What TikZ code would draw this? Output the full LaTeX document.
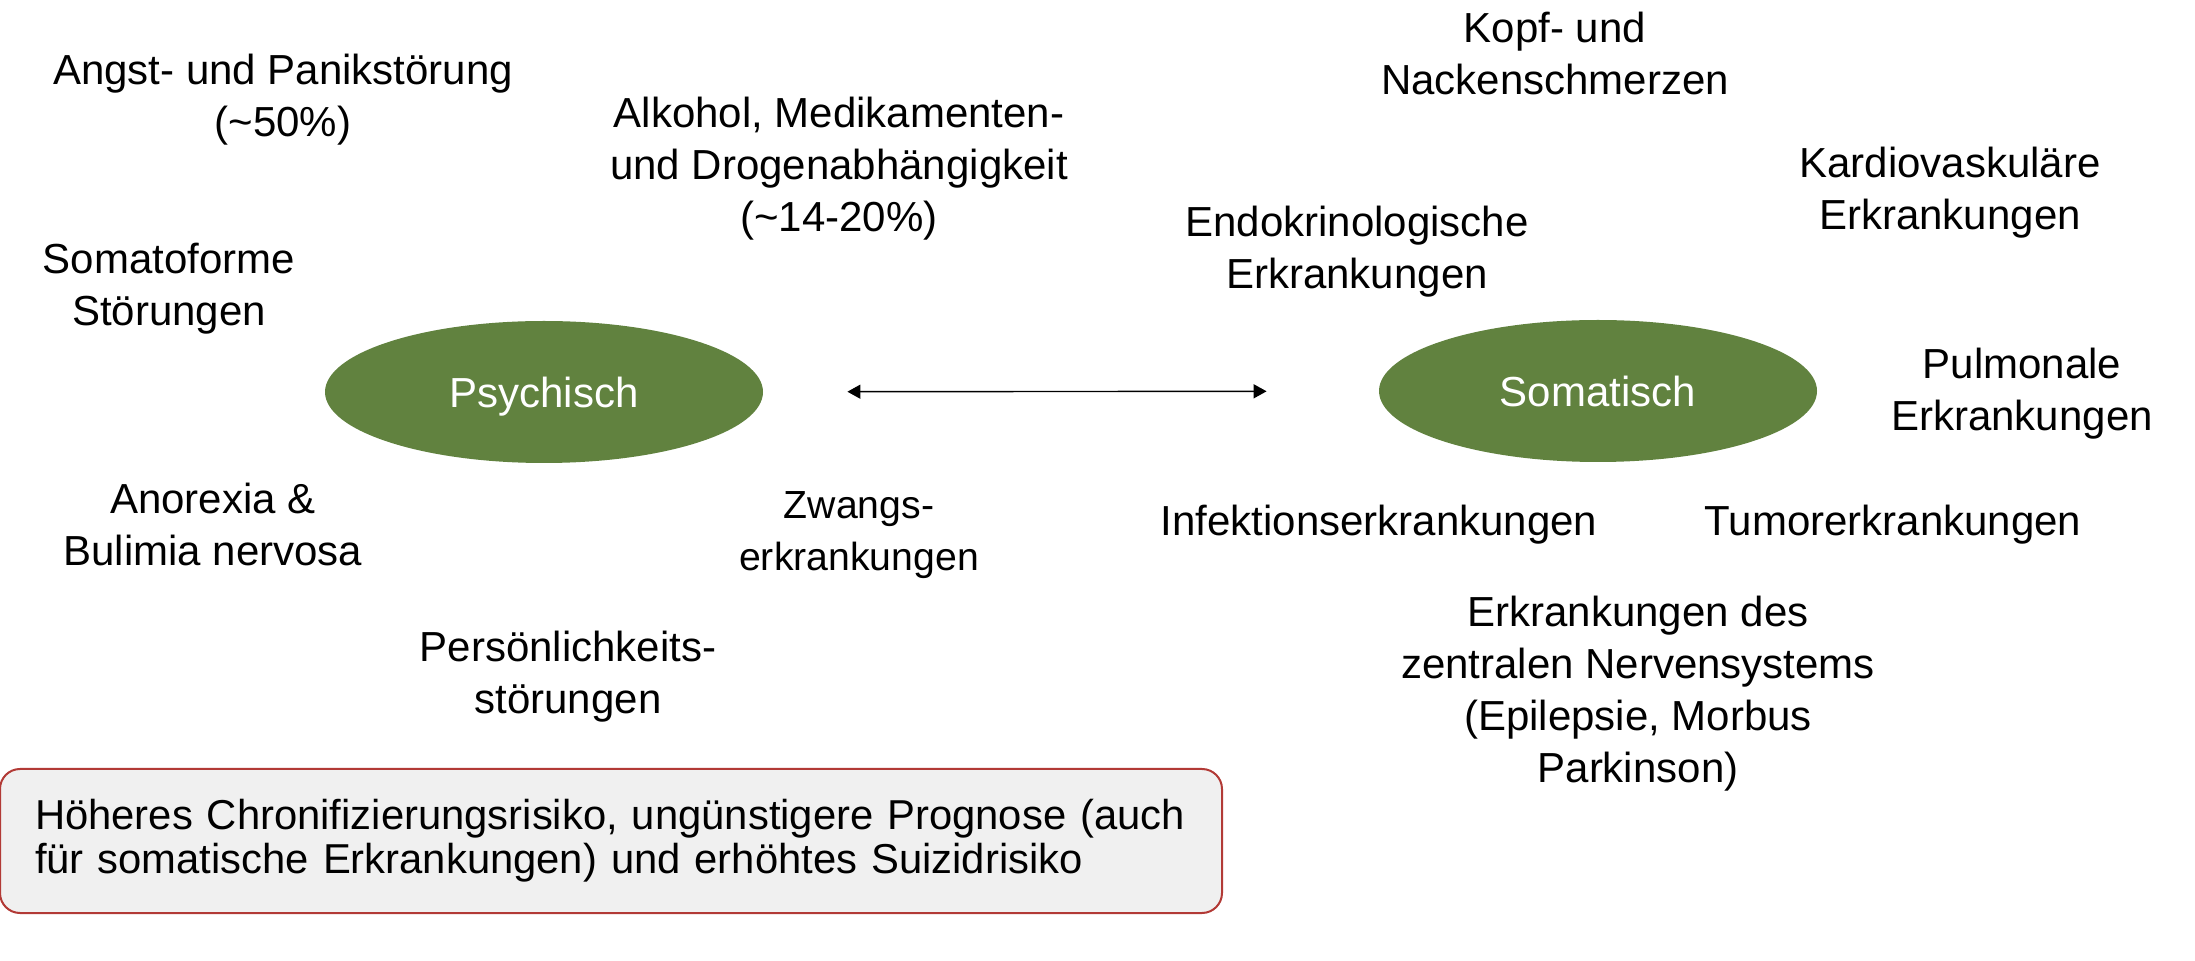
\documentclass[tikz,border=0pt]{standalone}
\usepackage{fontspec}
\setmainfont{Liberation Sans}
\usepackage{tikz}
\usetikzlibrary{positioning,shapes.geometric,arrows.meta}
\definecolor{pgreen}{HTML}{61823F}
\definecolor{pred}{HTML}{B23A36}
\definecolor{pgrey}{HTML}{F0F0F0}
\newcommand{\lblfont}{\fontsize{21}{26}\selectfont}

\begin{document}
\begin{tikzpicture}[x=0.5pt, y=-0.5pt,
  lbl/.style={align=center, font=\lblfont, inner sep=0pt},
  oval/.style={ellipse, fill=pgreen, text=white, font=\lblfont,
    text depth=0pt, minimum width=219pt, minimum height=71pt, inner sep=0pt},
  arr/.style={{Triangle[length=6.5pt,width=7pt]}-{Triangle[length=6.5pt,width=7pt]}, line width=0.7pt}
]
\useasboundingbox (0,0) rectangle (2195,961);

% the two poles
\node[oval] (psy) at (544,392) {Psychisch};
\node[oval] (som) at (1598,391) {Somatisch};
\draw[arr, shorten <=42pt, shorten >=56pt] (psy) -- (som);

% psychische Erkrankungen
\node[lbl] (angst) at (283,100) {Angst- und Panikstörung\\(\textasciitilde50\%)};
\node[lbl] (alk) at (839,169) {Alkohol, Medikamenten-\\und Drogenabhängigkeit\\(\textasciitilde14-20\%)};
\node[lbl] (somf) at (169,289) {Somatoforme\\Störungen};
\node[lbl] (anor) at (213,524) {Anorexia \&\\Bulimia nervosa};
\node[lbl, font=\fontsize{19.6}{26}\selectfont] (zwang) at (859,535) {Zwangs-\\erkrankungen};
\node[lbl] (pers) at (568,677) {Persönlichkeits-\\störungen};

% somatische Erkrankungen
\node[lbl] (kopf) at (1555,53) {Kopf- und\\Nackenschmerzen};
\node[lbl] (kardio) at (1950,193) {Kardiovaskuläre\\Erkrankungen};
\node[lbl] (endo) at (1357,252) {Endokrinologische\\Erkrankungen};
\node[lbl] (pulmo) at (2022,394) {Pulmonale\\Erkrankungen};
\node[lbl] (infekt) at (1379,525) {Infektionserkrankungen};
\node[lbl] (tumor) at (1893,525) {Tumorerkrankungen};
\node[lbl] (zns) at (1638,694) {Erkrankungen des\\zentralen Nervensystems\\(Epilepsie, Morbus\\Parkinson)};

% Hinweis
\node[rectangle, rounded corners=10pt, draw=pred, line width=1pt, fill=pgrey,
  minimum width=611pt, minimum height=72pt, text width=576pt, align=left,
  inner sep=0pt, font=\fontsize{20.9}{22}\selectfont] (note) at (611,841)
  {Höheres Chronifizierungsrisiko, ungünstigere Prognose (auch\\für somatische Erkrankungen) und erhöhtes Suizidrisiko};
\end{tikzpicture}
\end{document}
